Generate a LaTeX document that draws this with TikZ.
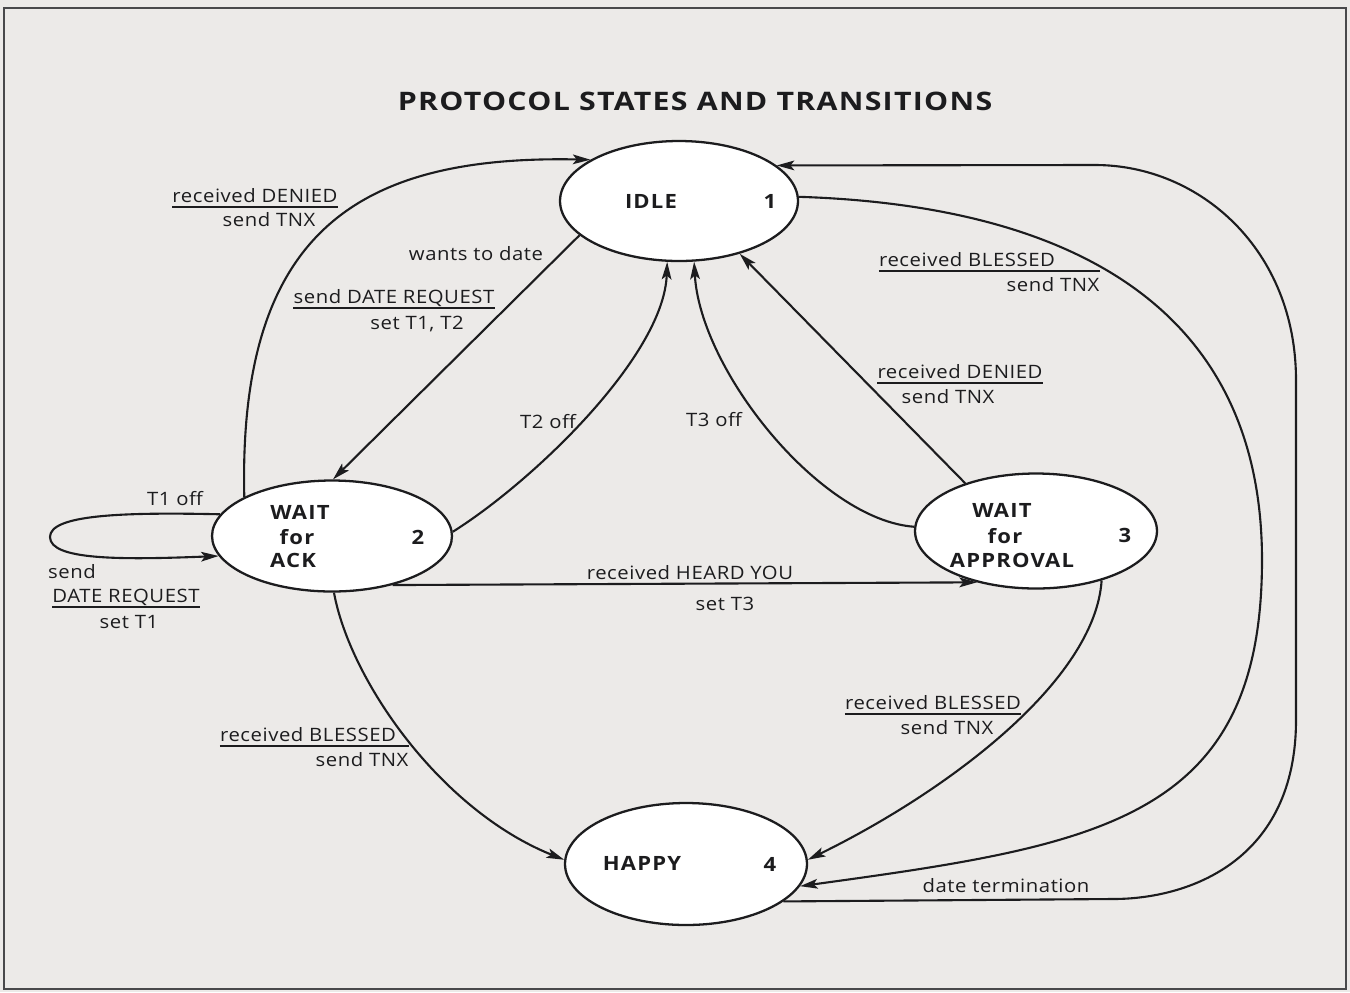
\documentclass[tikz,border=0pt]{standalone}
\usepackage{fontspec}
\setmainfont{Open Sans}
\newfontfamily\labelfont{Open Sans}[FakeStretch=1.1,LetterSpace=3]
\newfontfamily\statefont{Open Sans}[FakeStretch=1.12,LetterSpace=6]
\newfontfamily\headfont{Open Sans}[FakeStretch=1.19,LetterSpace=5]
\usetikzlibrary{arrows.meta,shapes.geometric}
\definecolor{paper}{RGB}{236,234,232}
\definecolor{ink}{RGB}{28,28,30}
% rule under the first line of a two-line transition label
\newcommand\barunder[3]{%
  \path (#1.base) ++(0,5) coordinate (fb-#1);
  \draw[bar] (fb-#1 -| #2.west) -- (fb-#1 -| #3.east);}
\begin{document}
\begin{tikzpicture}[x=0.02cm,y=-0.02cm,
  state/.style={ellipse,draw=ink,fill=white,line width=1.3pt,inner sep=0pt},
  sname/.style={font=\statefont\fontsize{11.2}{13}\selectfont\bfseries,text=ink,inner sep=0pt},
  lbl/.style={font=\labelfont\fontsize{10.5}{12}\selectfont,text=ink,inner sep=0pt,anchor=base},
  edge/.style={draw=ink,line width=1.2pt,-{Stealth[length=10pt,width=5.5pt,inset=2.2pt]}},
  bar/.style={draw=ink,line width=0.8pt}]
\fill[paper] (0,0) rectangle (1350,992);
\useasboundingbox (0,0) rectangle (1350,992);
\draw[ink!80,line width=1pt] (4,8) rectangle (1346,989);

\node[font=\headfont\fontsize{14.5}{16}\selectfont\bfseries,text=ink] (title) at (695,101) {PROTOCOL STATES AND TRANSITIONS};

% states
\node[state,minimum width=4.76cm,minimum height=2.4cm] (idle) at (679,201) {};
\node[state,minimum width=4.8cm,minimum height=2.22cm] (ack) at (332,536) {};
\node[state,minimum width=4.84cm,minimum height=2.3cm] (appr) at (1036,531) {};
\node[state,minimum width=4.84cm,minimum height=2.44cm] (happy) at (686,864) {};

\node[sname] (idleT) at (651,201) {IDLE};
\node[sname] (idleN) at (770,201) {1};
\node[sname] (ackT1) at (300,512) {WAIT};
\node[sname] (ackT2) at (297,537) {for};
\node[sname] (ackT3) at (293,560) {ACK};
\node[sname] (ackN) at (418,537) {2};
\node[sname] (apprT1) at (1002,510) {WAIT};
\node[sname] (apprT2) at (1005,536) {for};
\node[sname] (apprT3) at (1012,560) {APPROVAL};
\node[sname] (apprN) at (1125,535) {3};
\node[sname] (happyT) at (642,863) {HAPPY};
\node[sname] (happyN) at (770,864) {4};

% transitions
\draw[edge] (ack.156.4) .. controls (238,230) and (360,155) .. (idle.155.2);
\draw[edge] (idle.199) -- (ack.89);
\draw[edge] (ack.2) .. controls (535,480) and (664,355) .. (idle.259);
\draw[edge] (appr.178) .. controls (820,520) and (700,370) .. (idle.284.7);
\draw[edge] (appr.146.7) -- (idle.319.7);
\draw[edge] (ack.321) -- (appr.221);
\draw[edge] (ack.272) .. controls (350,680) and (440,810) .. (happy.178);
\draw[edge] (appr.323) .. controls (1095,680) and (950,790) .. (happy.2);
\draw[edge] (idle.2) .. controls (1060,205) and (1262,300) .. (1262,560)
  .. controls (1262,820) and (1100,845) .. (happy.349.4);
\draw[edge] (happy.339.6) -- (1113,899) .. controls (1190,899) and (1296,860) .. (1296,720)
  -- (1296,380) .. controls (1296,250) and (1200,165) .. (1095,165) -- (idle.20.4);
\draw[edge] (ack.169.8) .. controls (120,512) and (50,515) .. (50,537)
  .. controls (50,560) and (120,560) .. (ack.190.6);

% transition labels
\node[lbl] (l1a) at (255,202) {received DENIED};
\node[lbl] (l1b) at (269,226) {send TNX};
\barunder{l1a}{l1a}{l1a}
\node[lbl] (l2) at (476,260) {wants to date};
\node[lbl] (l3a) at (394,303) {send DATE REQUEST};
\node[lbl] (l3b) at (417,329) {set T1, T2};
\barunder{l3a}{l3a}{l3a}
\node[lbl] (l4) at (548,428) {T2 off};
\node[lbl] (l5) at (714,426) {T3 off};
\node[lbl] (l6a) at (960,378) {received DENIED};
\node[lbl] (l6b) at (948,403) {send TNX};
\barunder{l6a}{l6a}{l6a}
\node[lbl] (l7a) at (967,266) {received BLESSED};
\node[lbl] (l7b) at (1053,291) {send TNX};
\barunder{l7a}{l7a}{l7b}
\node[lbl] (l8) at (175,505) {T1 off};
\node[lbl] (l9a) at (72,578) {send};
\node[lbl] (l9b) at (126,602) {DATE REQUEST};
\node[lbl] (l9c) at (129,628) {set T1};
\barunder{l9b}{l9b}{l9b}
\node[lbl] (l10a) at (690,579) {received HEARD YOU};
\node[lbl] (l10b) at (725,610) {set T3};
\node[lbl] (l11a) at (308,741) {received BLESSED};
\node[lbl] (l11b) at (362,766) {send TNX};
\barunder{l11a}{l11a}{l11b}
\node[lbl] (l12a) at (933,709) {received BLESSED};
\node[lbl] (l12b) at (947,734) {send TNX};
\barunder{l12a}{l12a}{l12a}
\node[lbl] (l13) at (1006,892) {date termination};
\end{tikzpicture}
\end{document}
